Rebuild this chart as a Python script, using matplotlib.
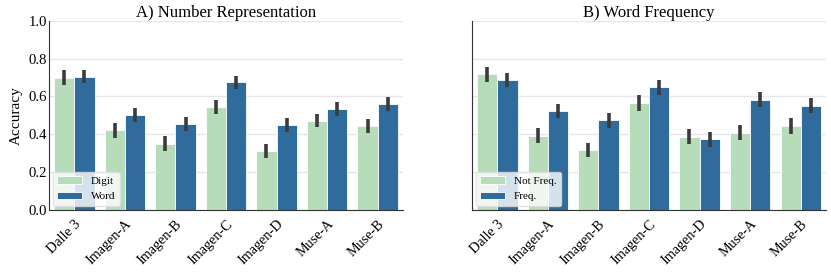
import matplotlib
matplotlib.use("Agg")
import matplotlib.pyplot as plt
import numpy as np

# models on the x axis
models = ["Dalle 3", "Imagen-A", "Imagen-B", "Imagen-C", "Imagen-D", "Muse-A", "Muse-B"]

# A) number representation
digit = [0.698, 0.420, 0.350, 0.544, 0.311, 0.472, 0.442]
word = [0.703, 0.502, 0.454, 0.675, 0.449, 0.534, 0.562]
digit_err = [0.039, 0.038, 0.038, 0.037, 0.037, 0.036, 0.037]
word_err = [0.035, 0.038, 0.036, 0.034, 0.038, 0.038, 0.037]

# B) word frequency
not_freq = [0.716, 0.392, 0.318, 0.564, 0.387, 0.408, 0.445]
freq = [0.684, 0.523, 0.473, 0.647, 0.373, 0.583, 0.551]
not_freq_err = [0.038, 0.040, 0.037, 0.042, 0.040, 0.040, 0.042]
freq_err = [0.037, 0.038, 0.038, 0.038, 0.040, 0.040, 0.038]

light = "#b7dcb9"
dark = "#306b9e"

plt.rcParams["font.family"] = ["Liberation Serif", "DejaVu Serif"]

fig, axes = plt.subplots(1, 2, figsize=(8.31, 2.76), dpi=100, sharey=True)
fig.subplots_adjust(left=0.059, right=0.994, top=0.925, bottom=0.24, wspace=0.195)

panels = [
    (axes[0], "A) Number Representation", digit, digit_err, word, word_err, "Digit", "Word"),
    (axes[1], "B) Word Frequency", not_freq, not_freq_err, freq, freq_err, "Not Freq.", "Freq."),
]

x = np.arange(len(models))
w = 0.4
for ax, title, v1, e1, v2, e2, l1, l2 in panels:
    ax.set_axisbelow(True)
    ax.yaxis.grid(True, color="#e6e6ec", linewidth=1)
    ax.bar(x - w / 2, v1, w, color=light, edgecolor="white", linewidth=0.6, label=l1)
    ax.bar(x + w / 2, v2, w, color=dark, edgecolor="white", linewidth=0.6, label=l2)
    ax.errorbar(x - w / 2, v1, yerr=e1, fmt="none", ecolor="#3b3b3b", elinewidth=2.6, capsize=0)
    ax.errorbar(x + w / 2, v2, yerr=e2, fmt="none", ecolor="#3b3b3b", elinewidth=2.6, capsize=0)
    ax.set_title(title, fontsize=12, pad=3)
    ax.set_xlim(-0.5, len(models) - 0.5)
    ax.set_ylim(0, 1.0)
    ax.set_xticks(x)
    ax.set_xticklabels(models, rotation=45, ha="right", rotation_mode="anchor", fontsize=10.2)
    ax.spines["top"].set_visible(False)
    ax.spines["right"].set_visible(False)
    ax.spines["left"].set_color("#333333")
    ax.spines["bottom"].set_color("#333333")
    ax.tick_params(axis="y", length=0, labelsize=10.6, pad=1.5)
    ax.tick_params(axis="x", length=0, pad=5.5)
    ax.legend(loc="lower left", fontsize=8, frameon=True, framealpha=0.8,
              edgecolor="#dddddd", handlelength=2.2, borderaxespad=0.35)

axes[0].set_ylabel("Accuracy", fontsize=11)
axes[0].set_yticks([0, 0.2, 0.4, 0.6, 0.8, 1.0])
axes[0].set_yticklabels(["0.0", "0.2", "0.4", "0.6", "0.8", "1.0"])
axes[1].tick_params(axis="y", labelleft=False)

fig.savefig("out.png", dpi=100)
